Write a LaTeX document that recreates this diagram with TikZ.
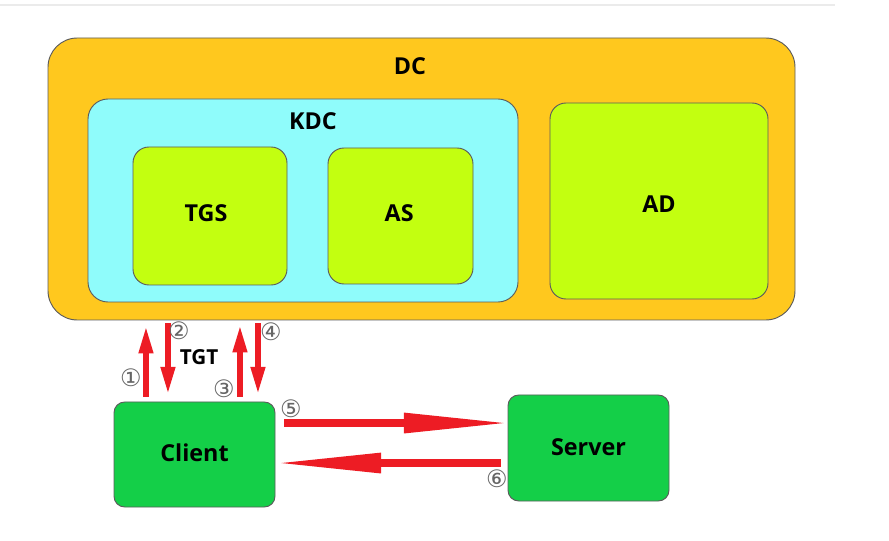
\documentclass[tikz,border=0pt]{standalone}
\usepackage{fontspec}
\setmainfont{Open Sans}
\newfontfamily\circfont{DejaVu Sans}
\usetikzlibrary{arrows.meta,positioning,fit}
\definecolor{clDC}{HTML}{FFC81E}
\definecolor{clKDC}{HTML}{8FFCFB}
\definecolor{clSvc}{HTML}{C3FF10}
\definecolor{clHost}{HTML}{14CF48}
\definecolor{clEdge}{HTML}{5C5C5C}
\definecolor{clFlow}{HTML}{ED1C24}
\definecolor{clNum}{HTML}{666666}
\definecolor{clRule}{HTML}{EBEBEB}
\tikzset{
  box/.style={rectangle, draw=clEdge, line width=0.7pt, inner sep=0pt},
  dcbox/.style={box, fill=clDC, rounded corners=22pt},
  kdcbox/.style={box, fill=clKDC, rounded corners=15pt},
  svcbox/.style={box, fill=clSvc, rounded corners=12pt},
  hostbox/.style={box, fill=clHost, rounded corners=8pt},
  title/.style={font=\bfseries\fontsize{17.5}{20}\selectfont, inner sep=0pt},
  num/.style={font=\circfont\fontsize{18}{18}\selectfont, text=clNum, inner sep=0pt},
  vflow/.style={-{Triangle[length=21pt,width=10pt]}, line width=4.5pt, draw=clFlow},
  hflow/.style={-{Triangle[length=80pt,width=14pt]}, line width=5.5pt, draw=clFlow},
}
\begin{document}
\begin{tikzpicture}[x=0.75pt, y=-0.75pt]
  \useasboundingbox (0,0) rectangle (889,541);
  \draw[clRule, line width=1.5pt] (0,5) -- (835,5);
  % domain controller
  \node[dcbox, fit={(48,38) (795,320)}] (dc) {};
  \node[title] (dclabel) at (410,66) {DC};
  \node[kdcbox, fit={(88,99) (518,302)}] (kdc) {};
  \node[title] (kdclabel) at (313,121) {KDC};
  \node[svcbox, fit={(133,147) (287,285)}, label={[title, xshift=-3pt, yshift=2pt]center:TGS}] (tgs) {};
  \node[svcbox, fit={(328,148) (473,284)}, label={[title, xshift=-1pt, yshift=2pt]center:AS}] (as) {};
  \node[svcbox, fit={(550,103) (768,299)}, label={[title, yshift=-2pt]center:AD}] (ad) {};
  % hosts
  \node[hostbox, fit={(114,402) (275,507)}, label={[title, yshift=1.5pt]center:Client}] (client) {};
  \node[hostbox, fit={(508,395) (669,501)}, label={[title, yshift=0.5pt]center:Server}] (server) {};
  % ticket exchange
  \draw[vflow, shorten <=3.75pt, shorten >=3.75pt] ([xshift=-36.4pt]client.north) -- ([xshift=-36.4pt]client.north |- dc.south);
  \draw[vflow, shorten <=2.25pt, shorten >=5pt] ([xshift=-19.9pt]client.north |- dc.south) -- ([xshift=-19.9pt]client.north);
  \draw[vflow, shorten <=3.75pt, shorten >=3pt] ([xshift=34.1pt]client.north) -- ([xshift=34.1pt]client.north |- dc.south);
  \draw[vflow, shorten <=2.25pt, shorten >=5pt] ([xshift=47.6pt]client.north |- dc.south) -- ([xshift=47.6pt]client.north);
  \draw[hflow, shorten <=6.75pt, shorten >=-2.25pt] ([yshift=23.6pt]client.east) -- ([yshift=23.6pt]client.east -| server.west);
  \draw[hflow, shorten <=5pt, shorten >=-0.75pt] ([yshift=-6.4pt]client.east -| server.west) -- ([yshift=-6.4pt]client.east);
  \node[num] (n1) at (131,378) {①};
  \node[num] (n2) at (179,331) {②};
  \node[num] (n3) at (224,389) {③};
  \node[num] (n4) at (271,332) {④};
  \node[num] (n5) at (291,409) {⑤};
  \node[num] (n6) at (497,479) {⑥};
  \node[title, font=\bfseries\fontsize{15.5}{18}\selectfont] (tgt) at (199,357) {TGT};
\end{tikzpicture}
\end{document}
